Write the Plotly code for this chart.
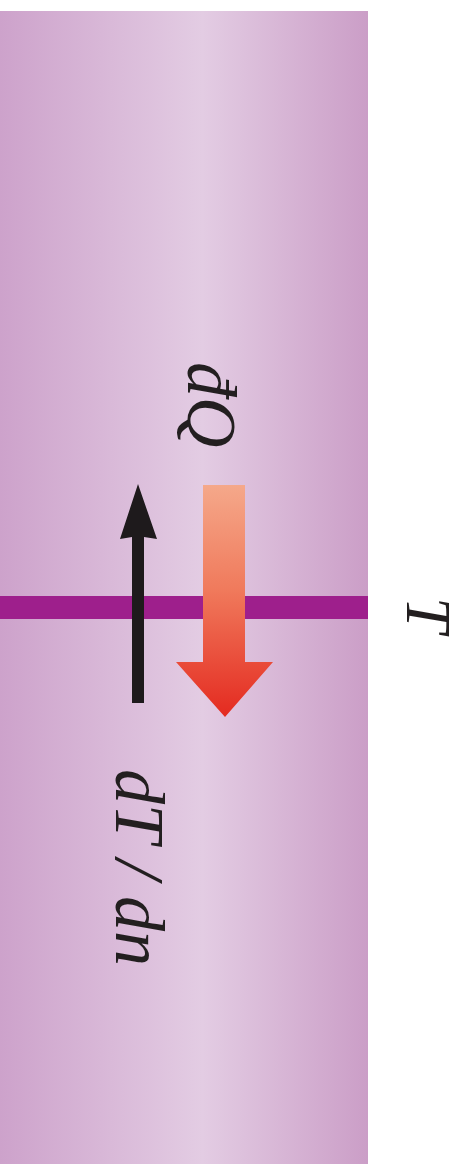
import plotly.graph_objects as go

# Diagram geometry (pixel-like data coordinates, y grows downward)
slab_x = [0, 368, 368, 0, 0]
slab_y = [11, 11, 1164, 1164, 11]
slab_colors = [[0, '#CDA2CB'], [0.55, '#E3CCE3'], [1, '#CB9EC7']]

band_x = [0, 368, 368, 0, 0]
band_y = [596, 596, 619, 619, 596]

grad_arrow_x = [138, 132, 132, 120, 138, 157, 144, 144, 138]
grad_arrow_y = [703, 703, 537, 539, 484, 539, 537, 703, 703]

heat_arrow_x = [203, 245, 245, 273, 225, 176, 203, 203]
heat_arrow_y = [485, 485, 662, 662, 717, 662, 662, 485]
heat_colors = [[0, '#E42A20'], [0.55, '#F07A5C'], [1, '#F5A88A']]

labels = ['<i>đQ</i>', '<i>dT / dn</i>', '<i>T</i>']
label_x = [212, 140, 429]
label_y = [405, 867, 617]
label_size = [70, 70, 64]

fig = go.Figure()
fig.add_trace(go.Scatter(x=slab_x, y=slab_y, mode='lines', fill='toself',
                         line=dict(width=0),
                         fillgradient=dict(type='horizontal', colorscale=slab_colors),
                         hoverinfo='skip'))
fig.add_trace(go.Scatter(x=band_x, y=band_y, mode='lines', fill='toself',
                         line=dict(width=0), fillcolor='#9E1F8C', hoverinfo='skip'))
fig.add_trace(go.Scatter(x=grad_arrow_x, y=grad_arrow_y, mode='lines', fill='toself',
                         line=dict(width=0), fillcolor='#1E1A1C', hoverinfo='skip'))
fig.add_trace(go.Scatter(x=heat_arrow_x, y=heat_arrow_y, mode='lines', fill='toself',
                         line=dict(width=0),
                         fillgradient=dict(type='vertical', colorscale=heat_colors),
                         hoverinfo='skip'))

for t, x, y, s in zip(labels, label_x, label_y, label_size):
    fig.add_annotation(x=x, y=y, text=t, showarrow=False, textangle=90,
                       font=dict(family='Liberation Serif', size=s, color='#231F20'),
                       xanchor='center', yanchor='middle')

fig.update_xaxes(range=[0, 467], visible=False, fixedrange=True)
fig.update_yaxes(range=[1164, 0], visible=False, fixedrange=True)
fig.update_layout(width=467, height=1164, margin=dict(l=0, r=0, t=0, b=0),
                  plot_bgcolor='white', paper_bgcolor='white', showlegend=False)
fig.write_html("out.html", config={'displayModeBar': False},
               post_script="document.body.style.margin='0';document.body.style.overflow='hidden';")
